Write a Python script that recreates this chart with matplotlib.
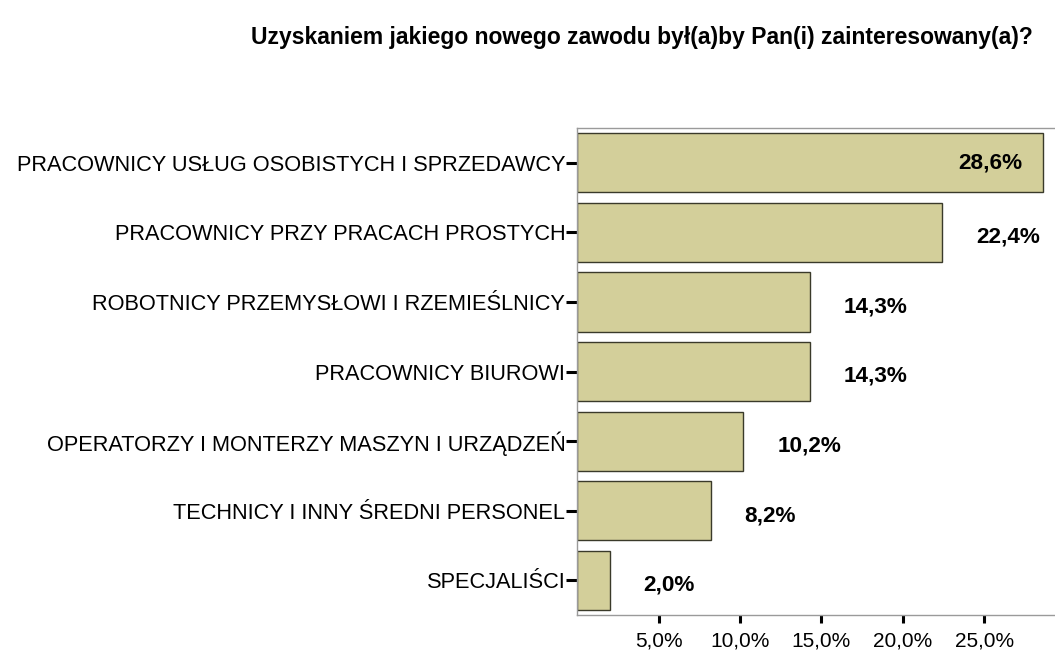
import matplotlib
matplotlib.use("Agg")
import matplotlib.pyplot as plt

# dane z wykresu (procent odpowiedzi)
kategorie = [
    "PRACOWNICY USŁUG OSOBISTYCH I SPRZEDAWCY",
    "PRACOWNICY PRZY PRACACH PROSTYCH",
    "ROBOTNICY PRZEMYSŁOWI I RZEMIEŚLNICY",
    "PRACOWNICY BIUROWI",
    "OPERATORZY I MONTERZY MASZYN I URZĄDZEŃ",
    "TECHNICY I INNY ŚREDNI PERSONEL",
    "SPECJALIŚCI",
]
procenty = [28.6, 22.4, 14.3, 14.3, 10.2, 8.2, 2.0]
etykiety = ["28,6%", "22,4%", "14,3%", "14,3%", "10,2%", "8,2%", "2,0%"]
ticki_x = [5, 10, 15, 20, 25]
ticki_x_opis = ["5,0%", "10,0%", "15,0%", "20,0%", "25,0%"]

plt.rcParams["font.family"] = ["Liberation Sans", "DejaVu Sans"]

fig = plt.figure(figsize=(10.55, 6.52), dpi=100)
ax = fig.add_axes([0.547, 0.0567, 0.453, 0.747])

pozycje = list(range(len(kategorie)))
ax.barh(pozycje, procenty, height=0.85, color="#d3cf9a",
        edgecolor="#3a3a2a", linewidth=1.0)

ax.set_ylim(len(kategorie) - 0.5, -0.5)
ax.set_xlim(0, 29.35)

ax.set_yticks(pozycje)
ax.set_yticklabels(kategorie, fontsize=15.7)
ax.set_xticks(ticki_x)
ax.set_xticklabels(ticki_x_opis, fontsize=15)

ax.tick_params(axis="y", length=8, width=2.2, color="black", pad=0.5)
ax.tick_params(axis="x", length=6, width=2.2, color="black", pad=5.5)

for strona in ["top", "left", "bottom"]:
    ax.spines[strona].set_color("#9a9a9a")
    ax.spines[strona].set_linewidth(1.0)
ax.spines["right"].set_visible(False)

# etykiety wartości
for y, v, t in zip(pozycje, procenty, etykiety):
    if v > 25:
        ax.annotate(t, (v, y), xytext=(-14.5, 0), textcoords="offset points",
                    ha="right", va="center", fontsize=16.2, fontweight="bold")
    else:
        ax.annotate(t, (v, y), xytext=(24.5, -3.5), textcoords="offset points",
                    ha="left", va="center", fontsize=16.2, fontweight="bold")

fig.text(0.6085, 0.942, "Uzyskaniem jakiego nowego zawodu był(a)by Pan(i) zainteresowany(a)?",
         ha="center", va="center", fontsize=16.5, fontweight="bold")

fig.savefig("out.png", dpi=100)
